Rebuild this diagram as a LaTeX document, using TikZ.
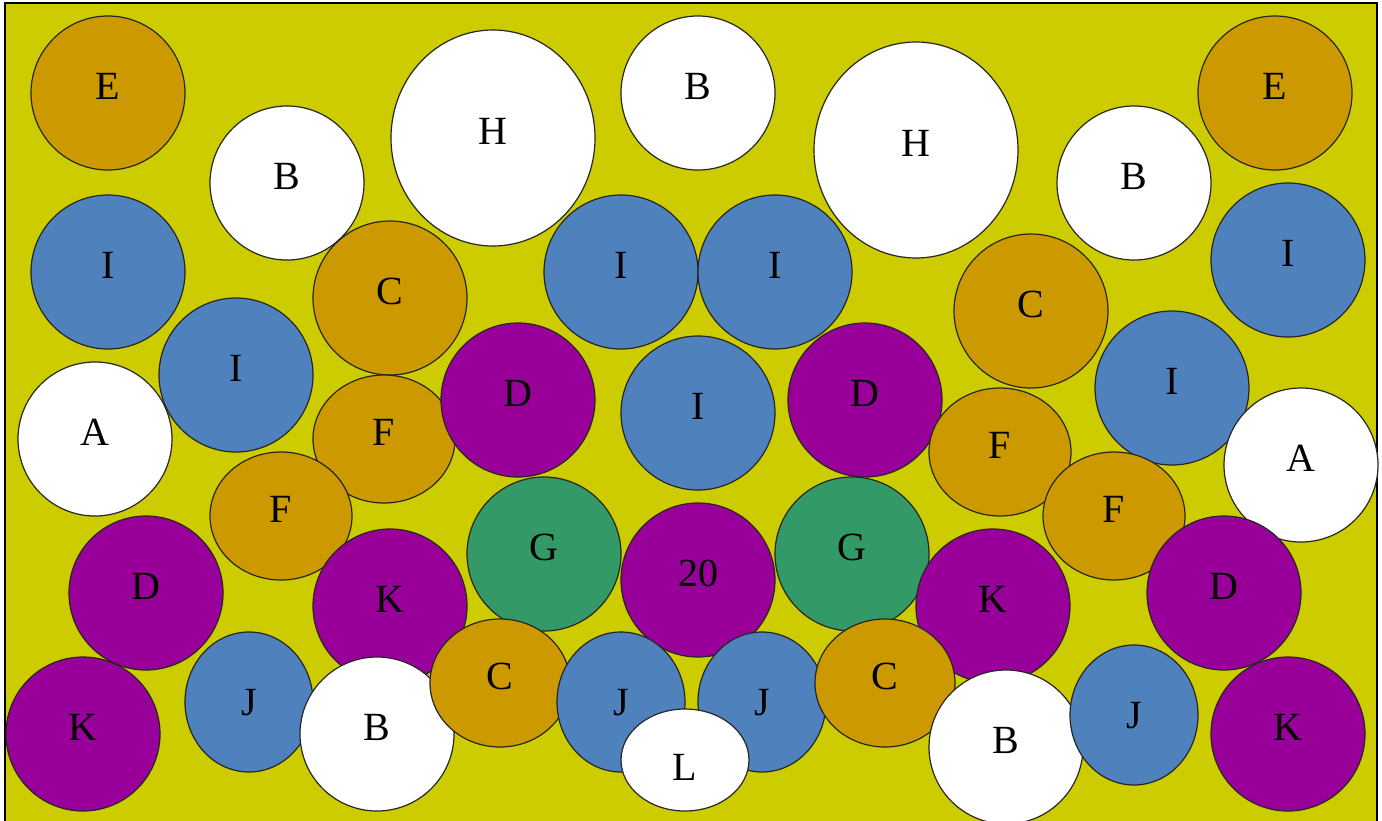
\documentclass[tikz,border=0pt]{standalone}
\usepackage{fontspec}
\setmainfont{Liberation Serif}
\usetikzlibrary{shapes.geometric}
\definecolor{olivebg}{RGB}{204,204,0}
\definecolor{ochre}{RGB}{204,153,0}
\definecolor{steel}{RGB}{79,129,189}
\definecolor{plum}{RGB}{153,0,153}
\definecolor{jade}{RGB}{51,153,102}

\begin{document}
\begin{tikzpicture}[
    x=0.5pt, y=-0.5pt,
    ball/.style={draw=black!85, line width=0.6pt, inner sep=0pt, text height=13.2pt, text depth=7pt,
      font=\fontsize{20}{24}\selectfont},
    round/.style={ball, circle, minimum size=77pt},
    oval/.style 2 args={ball, ellipse, minimum width=#1, minimum height=#2},
    hball/.style={oval={102pt}{108pt}},
    fball/.style={oval={71pt}{64pt}},
    jball/.style={oval={64pt}{70pt}, text depth=0pt},
    cball/.style={oval={70pt}{64pt}},
    white/.style={fill=white},
    orng/.style={fill=ochre},
    blue/.style={fill=steel},
    purp/.style={fill=plum},
    grn/.style={fill=jade},
  ]
  \useasboundingbox (0,0) rectangle (1382,820);
  \draw[fill=olivebg, line width=0.8pt] (5,3) rectangle (1377,824);
  % top row
  \node[round, orng] (e1) at (108,93) {E};
  \node[round, white] (b1) at (287,183) {B};
  \node[hball, white] (h1) at (493,138) {H};
  \node[round, white] (b2) at (698,93) {B};
  \node[hball, white] (h2) at (916,150) {H};
  \node[round, white] (b3) at (1134,183) {B};
  \node[round, orng] (e2) at (1275,93) {E};
  % second row
  \node[round, blue] (i1) at (108,272) {I};
  \node[round, orng] (c1) at (390,298) {C};
  \node[round, blue] (i2) at (621,272) {I};
  \node[round, blue] (i3) at (775,272) {I};
  \node[round, orng] (c2) at (1031,311) {C};
  \node[round, blue] (i4) at (1288,260) {I};
  % middle
  \node[round, blue] (i5) at (236,375) {I};
  \node[round, white] (a1) at (95,439) {A};
  \node[fball, orng] (f1) at (384,439) {F};
  \node[round, purp] (d1) at (518,400) {D};
  \node[round, blue] (i6) at (698,413) {I};
  \node[round, purp] (d2) at (865,400) {D};
  \node[fball, orng] (f2) at (1000,452) {F};
  \node[round, blue] (i7) at (1172,388) {I};
  \node[round, white] (a2) at (1301,465) {A};
  \node[fball, orng] (f3) at (281,516) {F};
  \node[round, grn] (g1) at (544,554) {G};
  \node[round, purp] (n20) at (698,580) {20};
  \node[round, grn] (g2) at (852,554) {G};
  \node[fball, orng] (f4) at (1114,516) {F};
  % lower rows
  \node[round, purp] (d3) at (146,593) {D};
  \node[round, purp] (k1) at (390,606) {K};
  \node[round, purp] (k2) at (993,606) {K};
  \node[round, purp] (d4) at (1224,593) {D};
  \node[round, purp] (k3) at (83,734) {K};
  \node[jball, blue] (j1) at (249,702) {J};
  \node[round, white] (b4) at (377,734) {B};
  \node[cball, orng] (c3) at (500,683) {C};
  \node[jball, blue] (j2) at (621,702) {J};
  \node[jball, blue] (j3) at (762,702) {J};
  \node[oval={64pt}{51pt}, white, text height=20pt, text depth=0pt] (l1) at (685,760) {L};
  \node[cball, orng] (c4) at (885,683) {C};
  \node[round, white] (b5) at (1006,747) {B};
  \node[jball, blue] (j4) at (1134,715) {J};
  \node[round, purp] (k4) at (1288,734) {K};
\end{tikzpicture}
\end{document}
